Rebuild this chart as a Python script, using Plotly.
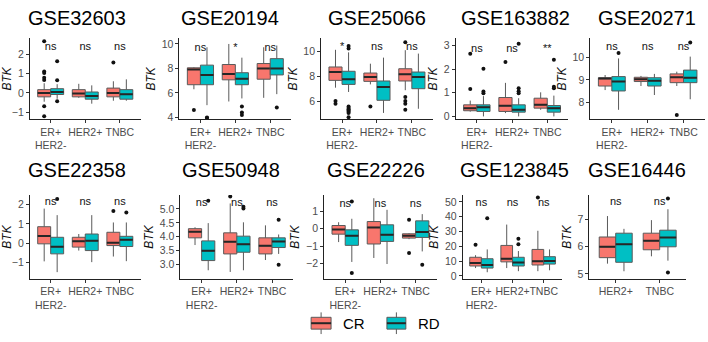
import plotly.graph_objects as go

# ---------------- data ----------------
DATASETS = ["GSE32603", "GSE20194", "GSE25066", "GSE163882", "GSE20271",
            "GSE22358", "GSE50948", "GSE22226", "GSE123845", "GSE16446"]
CATS3 = ["ER+<br>HER2-", "HER2+", "TNBC"]
CATEGORIES = [CATS3] * 9 + [["HER2+", "TNBC"]]
SERIES = ["CR", "RD"]

# per panel, per category
CR_LOW = [[-0.45, -0.25, -0.4], [6.3, 5.3, 5.6], [7.1, 7.36, 6.9], [0.2, 0.14, 0.28], [8.55, 8.73, 8.73],
          [-0.94, -0.38, -0.69], [3.7, 2.73, 3.16], [-0.77, -1.69, -0.6], [5.3, 5.3, 3.2], [5.38, 5.65]]
CR_Q1 = [[-0.2, -0.2, -0.2], [6.67, 7.07, 7.12], [7.68, 7.6, 7.63], [0.24, 0.21, 0.35], [8.73, 8.93, 8.88],
         [-0.03, -0.2, -0.12], [3.96, 3.38, 3.38], [-0.31, -0.88, -0.54], [6.7, 9.5, 7.4], [5.6, 5.89]]
CR_MED = [[0.0, -0.03, 0.0], [7.92, 7.55, 8.0], [8.34, 7.95, 8.16], [0.35, 0.45, 0.49], [9.07, 9.03, 9.12],
          [0.38, 0.1, 0.03], [4.18, 3.82, 3.67], [-0.04, 0.08, -0.4], [8.8, 11.6, 9.9], [6.0, 6.22]]
CR_Q3 = [[0.17, 0.17, 0.25], [8.05, 8.32, 8.4], [8.74, 8.26, 8.6], [0.49, 0.8, 0.77], [9.1, 9.12, 9.27],
         [0.86, 0.31, 0.57], [4.29, 4.14, 3.96], [0.19, 0.42, -0.29], [12.6, 20.6, 17.9], [6.36, 6.5]]
CR_HIGH = [[0.5, 0.47, 0.6], [8.1, 10.0, 9.73], [10.1, 9.0, 10.07], [0.67, 1.42, 1.02], [9.22, 9.18, 9.37],
           [1.8, 0.48, 1.08], [4.34, 5.2, 4.41], [0.38, 1.77, -0.25], [14.0, 34.7, 30.5], [7.13, 6.98]]
CR_OUT = [[[2.65, 1.1, 1.02, 0.78, 0.66, -0.68, -1.2], [], [1.57]],
          [[4.6], [], []],
          [[6.04, 5.83], [5.6], [10.7, 6.36, 6.04, 5.83, 5.35]],
          [[2.65, 1.16], [2.3], []],
          [[], [], [7.44]],
          [[], [], [1.68]],
          [[], [5.45], []],
          [[], [], [0.52, -1.4]],
          [[21.0], [], [53.0]],
          [[], []]]

RD_LOW = [[-0.3, -0.55, -0.4], [5.0, 5.55, 5.9], [6.76, 5.1, 5.43], [0.0, 0.0, 0.0], [7.67, 8.33, 8.14],
          [-1.5, -0.98, -0.93], [2.79, 2.79, 3.38], [-1.92, -2.04, -1.31], [2.5, 3.2, 3.8], [5.1, 5.49]]
RD_Q1 = [[-0.08, -0.32, -0.32], [6.67, 6.67, 7.47], [7.36, 6.1, 7.02], [0.21, 0.18, 0.18], [8.51, 8.73, 8.88],
         [-0.55, -0.38, -0.17], [3.14, 3.44, 3.61], [-0.96, -0.73, -0.5], [5.3, 6.7, 8.0], [5.43, 6.0]]
RD_MED = [[0.05, -0.15, -0.07], [7.47, 7.15, 8.0], [7.76, 7.15, 7.95], [0.39, 0.28, 0.35], [8.93, 8.97, 9.1],
          [-0.18, 0.13, 0.18], [3.49, 3.73, 3.83], [-0.4, -0.35, -0.19], [7.4, 9.0, 10.1], [6.09, 6.34]]
RD_Q3 = [[0.22, 0.05, 0.17], [8.27, 7.65, 8.8], [8.4, 7.63, 8.34], [0.49, 0.49, 0.46], [9.15, 9.1, 9.44],
         [0.31, 0.48, 0.36], [3.85, 4.02, 3.96], [-0.06, 0.23, 0.46], [11.6, 12.6, 13.0], [6.5, 6.61]]
RD_HIGH = [[0.45, 0.39, 0.7], [9.73, 8.88, 9.87], [9.9, 9.48, 9.8], [0.86, 0.77, 0.88], [9.96, 9.27, 10.04],
           [1.46, 1.46, 1.08], [4.49, 4.52, 4.08], [0.58, 1.1, 0.85], [17.9, 16.8, 17.9], [6.66, 7.38]]
RD_OUT = [[[1.63, 0.65, -0.42], [], []],
          [[4.0, 3.95], [4.9, 4.4, 4.2], [4.8]],
          [[10.4, 10.2, 5.6, 5.5, 5.4, 5.3, 5.2, 5.1, 4.75], [], []],
          [[2.02, 1.05, 0.98], [3.07, 1.19, 1.07, 0.98], [2.4, 1.26, 1.19]],
          [[10.2], [], [10.67]],
          [[2.3], [], [1.6]],
          [[5.3], [5.08, 5.02], [4.61, 2.99]],
          [[1.58, -2.56], [], [-2.08]],
          [[38.9], [25.2, 21.4], []],
          [[], [7.78, 5.05]]]

SIG_LABELS = [["ns", "ns", "ns"], ["ns", "*", "ns"], ["*", "ns", "ns"], ["ns", "ns", "**"],
              ["ns", "ns", "ns"], ["ns", "ns", "ns"], ["ns", "ns", "ns"], ["ns", "ns", "ns"],
              ["ns", "ns", "ns"], ["ns", "ns"]]
SIG_Y = [2.37, 9.65, 10.33, 2.86, 10.45, 2.11, 5.2, 1.44, 49.4, 7.62]

Y_TICKS = [[-1, 0, 1, 2], [4, 6, 8, 10], [6, 8, 10], [0, 1, 2, 3], [8, 9, 10],
           [-1, 0, 1, 2], [3.0, 3.5, 4.0, 4.5, 5.0], [-2, -1, 0, 1], [0, 10, 20, 30, 40, 50], [5, 6, 7]]
Y_TICKTEXT = [None, None, None, None, None, None, ["3.0", "3.5", "4.0", "4.5", "5.0"], None, None, None]

# ---------------- layout constants ----------------
W, H = 708, 342
Y_RANGE = [[-1.35, 2.8], [3.85, 10.45], [4.6, 11.0], [-0.12, 3.3], [7.25, 10.85],
           [-1.85, 2.5], [2.48, 5.5], [-2.9, 1.95], [-2.0, 54.6], [4.82, 7.9]]
X_PX = [(28, 139), (178, 290), (320, 432), (455, 568), (590, 705),
        (28, 139), (179, 292), (323, 436), (462, 562), (589, 686)]
ROW_PX = [(38, 120), (197, 282)]
TITLE_PX = [(75, 17), (229, 17), (376, 17), (515, 17), (647, 17),
            (75, 172), (230, 172), (375, 172), (514, 172), (637, 172)]

COLORS = {"CR": "#F8766D", "RD": "#00BFC4"}
OFFSET = {"CR": -0.1875, "RD": 0.1875}
BOX_W = 0.375
FONT = "Liberation Sans, Arial, sans-serif"

STATS = {
    "CR": (CR_LOW, CR_Q1, CR_MED, CR_Q3, CR_HIGH, CR_OUT),
    "RD": (RD_LOW, RD_Q1, RD_MED, RD_Q3, RD_HIGH, RD_OUT),
}

fig = go.Figure()
annotations = []
shapes = []

for i, name in enumerate(DATASETS):
    k = i + 1
    xa = "x" if k == 1 else f"x{k}"
    ya = "y" if k == 1 else f"y{k}"
    cats = CATEGORIES[i]
    pos = list(range(len(cats)))
    for s in SERIES:
        low, q1, med, q3, high, outs = STATS[s]
        xs = [p + OFFSET[s] for p in pos]
        fig.add_trace(go.Box(
            x=xs, q1=q1[i], median=med[i], q3=q3[i],
            lowerfence=low[i], upperfence=high[i],
            width=BOX_W, whiskerwidth=0, boxpoints=False,
            fillcolor=COLORS[s], line=dict(color="#5a5a5a", width=1),
            xaxis=xa, yaxis=ya, showlegend=False, hoverinfo="skip"))
        # thicker median line
        fig.add_trace(go.Box(
            x=xs, q1=med[i], median=med[i], q3=med[i],
            lowerfence=med[i], upperfence=med[i],
            width=BOX_W, whiskerwidth=0, boxpoints=False,
            fillcolor="rgba(0,0,0,0)", line=dict(color="#262626", width=2),
            xaxis=xa, yaxis=ya, showlegend=False, hoverinfo="skip"))
        ox, oy = [], []
        for p, vals in zip(pos, outs[i]):
            for v in vals:
                ox.append(p + OFFSET[s])
                oy.append(v)
        if ox:
            fig.add_trace(go.Scatter(
                x=ox, y=oy, mode="markers",
                marker=dict(color="#111111", size=4),
                xaxis=xa, yaxis=ya, showlegend=False, hoverinfo="skip"))
    fig.add_trace(go.Scatter(
        x=pos, y=[SIG_Y[i]] * len(pos), text=SIG_LABELS[i], mode="text",
        textfont=dict(size=11, color="#111111", family=FONT),
        xaxis=xa, yaxis=ya, showlegend=False, hoverinfo="skip"))

    row = 0 if i < 5 else 1
    x0, x1 = X_PX[i]
    t, b = ROW_PX[row]
    ax_common = dict(showline=True, linecolor="#222222", linewidth=1,
                     ticks="outside", ticklen=3, tickcolor="#333333",
                     showgrid=False, zeroline=False, tickangle=0,
                     tickfont=dict(size=10.5, color="#4d4d4d", family=FONT))
    fig.layout[("xaxis" if k == 1 else f"xaxis{k}")] = dict(
        domain=[x0 / W, x1 / W], anchor=ya,
        range=[-0.6, len(cats) - 0.4],
        tickvals=pos, ticktext=cats, **ax_common)
    ydict = dict(domain=[1 - b / H, 1 - t / H], anchor=xa,
                 range=Y_RANGE[i], tickvals=Y_TICKS[i],
                 title=dict(text="<i>BTK</i>", standoff=3,
                            font=dict(size=12, color="#111111", family=FONT)),
                 **ax_common)
    if Y_TICKTEXT[i]:
        ydict["ticktext"] = Y_TICKTEXT[i]
    fig.layout[("yaxis" if k == 1 else f"yaxis{k}")] = ydict

    tx, ty = TITLE_PX[i]
    annotations.append(dict(text=name, x=tx / W, y=1 - ty / H, xref="paper", yref="paper",
                            showarrow=False, xanchor="center", yanchor="middle",
                            font=dict(size=20, color="#000000", family=FONT)))

# legend (drawn manually)
LEG = [("CR", 310, 330, 340), ("RD", 386, 405, 415)]
for lab, lx0, lx1, tx in LEG:
    cx = (lx0 + lx1) / 2
    shapes.append(dict(type="line", xref="paper", yref="paper",
                       x0=cx / W, x1=cx / W, y0=1 - 316 / H, y1=1 - 338 / H,
                       line=dict(color="#5a5a5a", width=1)))
    shapes.append(dict(type="rect", xref="paper", yref="paper",
                       x0=lx0 / W, x1=lx1 / W, y0=1 - 321 / H, y1=1 - 333 / H,
                       fillcolor=COLORS[lab], line=dict(color="#5a5a5a", width=1)))
    shapes.append(dict(type="line", xref="paper", yref="paper",
                       x0=lx0 / W, x1=lx1 / W, y0=1 - 327 / H, y1=1 - 327 / H,
                       line=dict(color="#262626", width=2)))
    annotations.append(dict(text=lab, x=tx / W, y=1 - 327 / H, xref="paper", yref="paper",
                            showarrow=False, xanchor="left", yanchor="middle",
                            font=dict(size=15, color="#000000", family=FONT)))

fig.update_layout(width=W, height=H, margin=dict(l=0, r=0, t=0, b=0),
                  paper_bgcolor="white", plot_bgcolor="white",
                  boxmode="overlay", annotations=annotations, shapes=shapes,
                  font=dict(family=FONT))

fig.write_html("out.html")
